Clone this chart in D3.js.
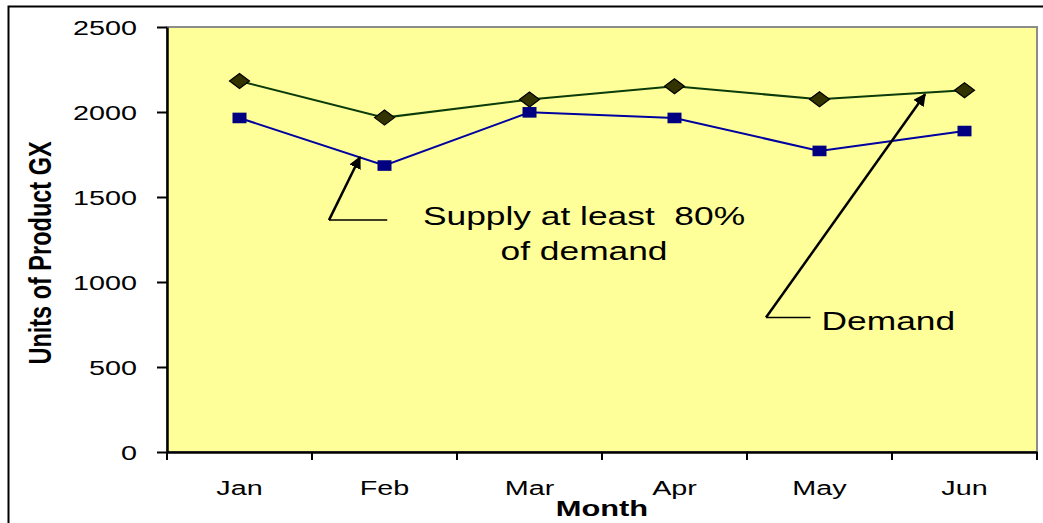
<!DOCTYPE html>
<html>
<head>
<meta charset="utf-8">
<script src="https://cdn.jsdelivr.net/npm/d3@7"></script>
<style>
  html, body { margin: 0; padding: 0; background: #ffffff; overflow: hidden; }
  svg { display: block; }
  text { font-family: Arial, "Liberation Sans", sans-serif; fill: #000; white-space: pre; }
</style>
</head>
<body>
<svg id="chart" width="1043" height="523"></svg>
<script>
// ---- data ----
const months = ["Jan", "Feb", "Mar", "Apr", "May", "Jun"];
const demand = [2182, 1967, 2073, 2151, 2075, 2128];
const supply = [1965, 1685, 1998, 1965, 1771, 1888];
const yTicks = [0, 500, 1000, 1500, 2000, 2500];
const yTitle = "Units of Product GX";
const xTitle = "Month";
const supplyNote = ["Supply at least  80%", "of demand"];
const demandNote = "Demand";

// ---- layout ----
const SX = 1.37; // horizontal text stretch seen in the reference
const L = 167, R = 1037, T = 27, B = 452;
const svg = d3.select("#chart");

const x = d3.scaleBand().domain(months).range([L, R]).padding(0);
const xi = d3.scaleLinear().domain([-0.5, months.length - 0.5]).range([L, R]);
const y = d3.scaleLinear().domain([0, 2500]).range([B, T]);

// outer frame
svg.append("rect").attr("x", 8.5).attr("y", 6.5).attr("width", 1200).attr("height", 700)
  .attr("fill", "#fff").attr("stroke", "#000").attr("stroke-width", 2);

// plot area
svg.append("rect").attr("x", L).attr("y", T).attr("width", R - L).attr("height", B - T)
  .attr("fill", "#FFFF99").attr("stroke", "#8c8c8c").attr("stroke-width", 2);

// arrow marker
const defs = svg.append("defs");
defs.append("marker").attr("id", "arrow").attr("viewBox", "0 0 10 10")
  .attr("refX", 9).attr("refY", 5).attr("markerWidth", 5).attr("markerHeight", 5)
  .attr("markerUnits", "strokeWidth").attr("orient", "auto")
  .append("path").attr("d", "M0,0 L10,5 L0,10 z").attr("fill", "#000");

// y axis
const yAxis = svg.append("g").attr("transform", `translate(${L},0)`)
  .call(d3.axisLeft(y).tickValues(yTicks).tickFormat(d3.format("d"))
    .tickSize(10).tickPadding(0).tickSizeOuter(0));
yAxis.select(".domain").attr("stroke", "#000").attr("stroke-width", 2.5);
yAxis.selectAll(".tick line").attr("stroke", "#000").attr("stroke-width", 2);
yAxis.selectAll(".tick text")
  .attr("x", -30 / SX).attr("dy", "0.36em")
  .attr("transform", `scale(${SX},1)`)
  .style("font-size", "21px").style("font-family", "Arial, 'Liberation Sans', sans-serif");

// x axis
const xAxis = svg.append("g").attr("transform", `translate(0,${B})`)
  .call(d3.axisBottom(x).tickSize(0).tickPadding(0));
xAxis.select(".domain").attr("stroke", "#000").attr("stroke-width", 2.5);
xAxis.selectAll(".tick text")
  .attr("y", 43).attr("dy", 0)
  .attr("transform", `scale(${SX},1)`)
  .style("font-size", "21px").style("font-family", "Arial, 'Liberation Sans', sans-serif");
// category separator ticks
svg.append("g").selectAll("line").data(d3.range(months.length + 1)).join("line")
  .attr("x1", i => xi(i - 0.5)).attr("x2", i => xi(i - 0.5))
  .attr("y1", B).attr("y2", B + 8)
  .attr("stroke", "#000").attr("stroke-width", 2);

// axis titles
svg.append("text")
  .attr("transform", `translate(51,253) scale(${SX},1) rotate(-90)`)
  .attr("text-anchor", "middle")
  .style("font-size", "23.5px").style("font-weight", "bold")
  .text(yTitle);
svg.append("text")
  .attr("transform", `translate(${(L + R) / 2},516) scale(${SX},1)`)
  .attr("text-anchor", "middle")
  .style("font-size", "22.5px").style("font-weight", "bold")
  .text(xTitle);

// series lines
const cx = (d, i) => x(months[i]) + x.bandwidth() / 2;
const line = d3.line().x(cx).y(d => y(d));
svg.append("path").datum(demand).attr("d", line)
  .attr("fill", "none").attr("stroke", "#0b3b0b").attr("stroke-width", 2);
svg.append("path").datum(supply).attr("d", line)
  .attr("fill", "none").attr("stroke", "#0000a0").attr("stroke-width", 2);

// markers
svg.append("g").selectAll("path").data(demand).join("path")
  .attr("transform", (d, i) => `translate(${cx(d, i)},${y(d)})`)
  .attr("d", "M-10,0 L0,-7.5 L10,0 L0,7.5 Z")
  .attr("fill", "#333300").attr("stroke", "#000").attr("stroke-width", 1.2);
svg.append("g").selectAll("rect").data(supply).join("rect")
  .attr("x", (d, i) => cx(d, i) - 7).attr("y", d => y(d) - 5.3)
  .attr("width", 14).attr("height", 10.6)
  .attr("fill", "#000080");

// annotation: supply
svg.append("line")
  .attr("x1", xi(0.617)).attr("y1", y(1364)).attr("x2", xi(1.019)).attr("y2", y(1364))
  .attr("stroke", "#000").attr("stroke-width", 1.5);
svg.append("line")
  .attr("x1", xi(0.617)).attr("y1", y(1364)).attr("x2", xi(0.831)).attr("y2", y(1735))
  .attr("stroke", "#000").attr("stroke-width", 2.5).attr("marker-end", "url(#arrow)");
svg.append("text")
  .attr("transform", `translate(${xi(2.376)},${y(1333)}) scale(${SX},1)`)
  .attr("text-anchor", "middle").style("font-size", "25.8px")
  .text(supplyNote[0]);
svg.append("text")
  .attr("transform", `translate(${xi(2.376)},${y(1132)}) scale(${SX},1)`)
  .attr("text-anchor", "middle").style("font-size", "25.8px")
  .text(supplyNote[1]);

// annotation: demand
svg.append("line")
  .attr("x1", xi(3.631)).attr("y1", y(791)).attr("x2", xi(3.938)).attr("y2", y(791))
  .attr("stroke", "#000").attr("stroke-width", 1.5);
svg.append("line")
  .attr("x1", xi(3.631)).attr("y1", y(791)).attr("x2", xi(4.728)).attr("y2", y(2104))
  .attr("stroke", "#000").attr("stroke-width", 2.5).attr("marker-end", "url(#arrow)");
svg.append("text")
  .attr("transform", `translate(${xi(4.014)},${y(716)}) scale(${SX},1)`)
  .attr("text-anchor", "start").style("font-size", "25.8px")
  .text(demandNote);
</script>
</body>
</html>
